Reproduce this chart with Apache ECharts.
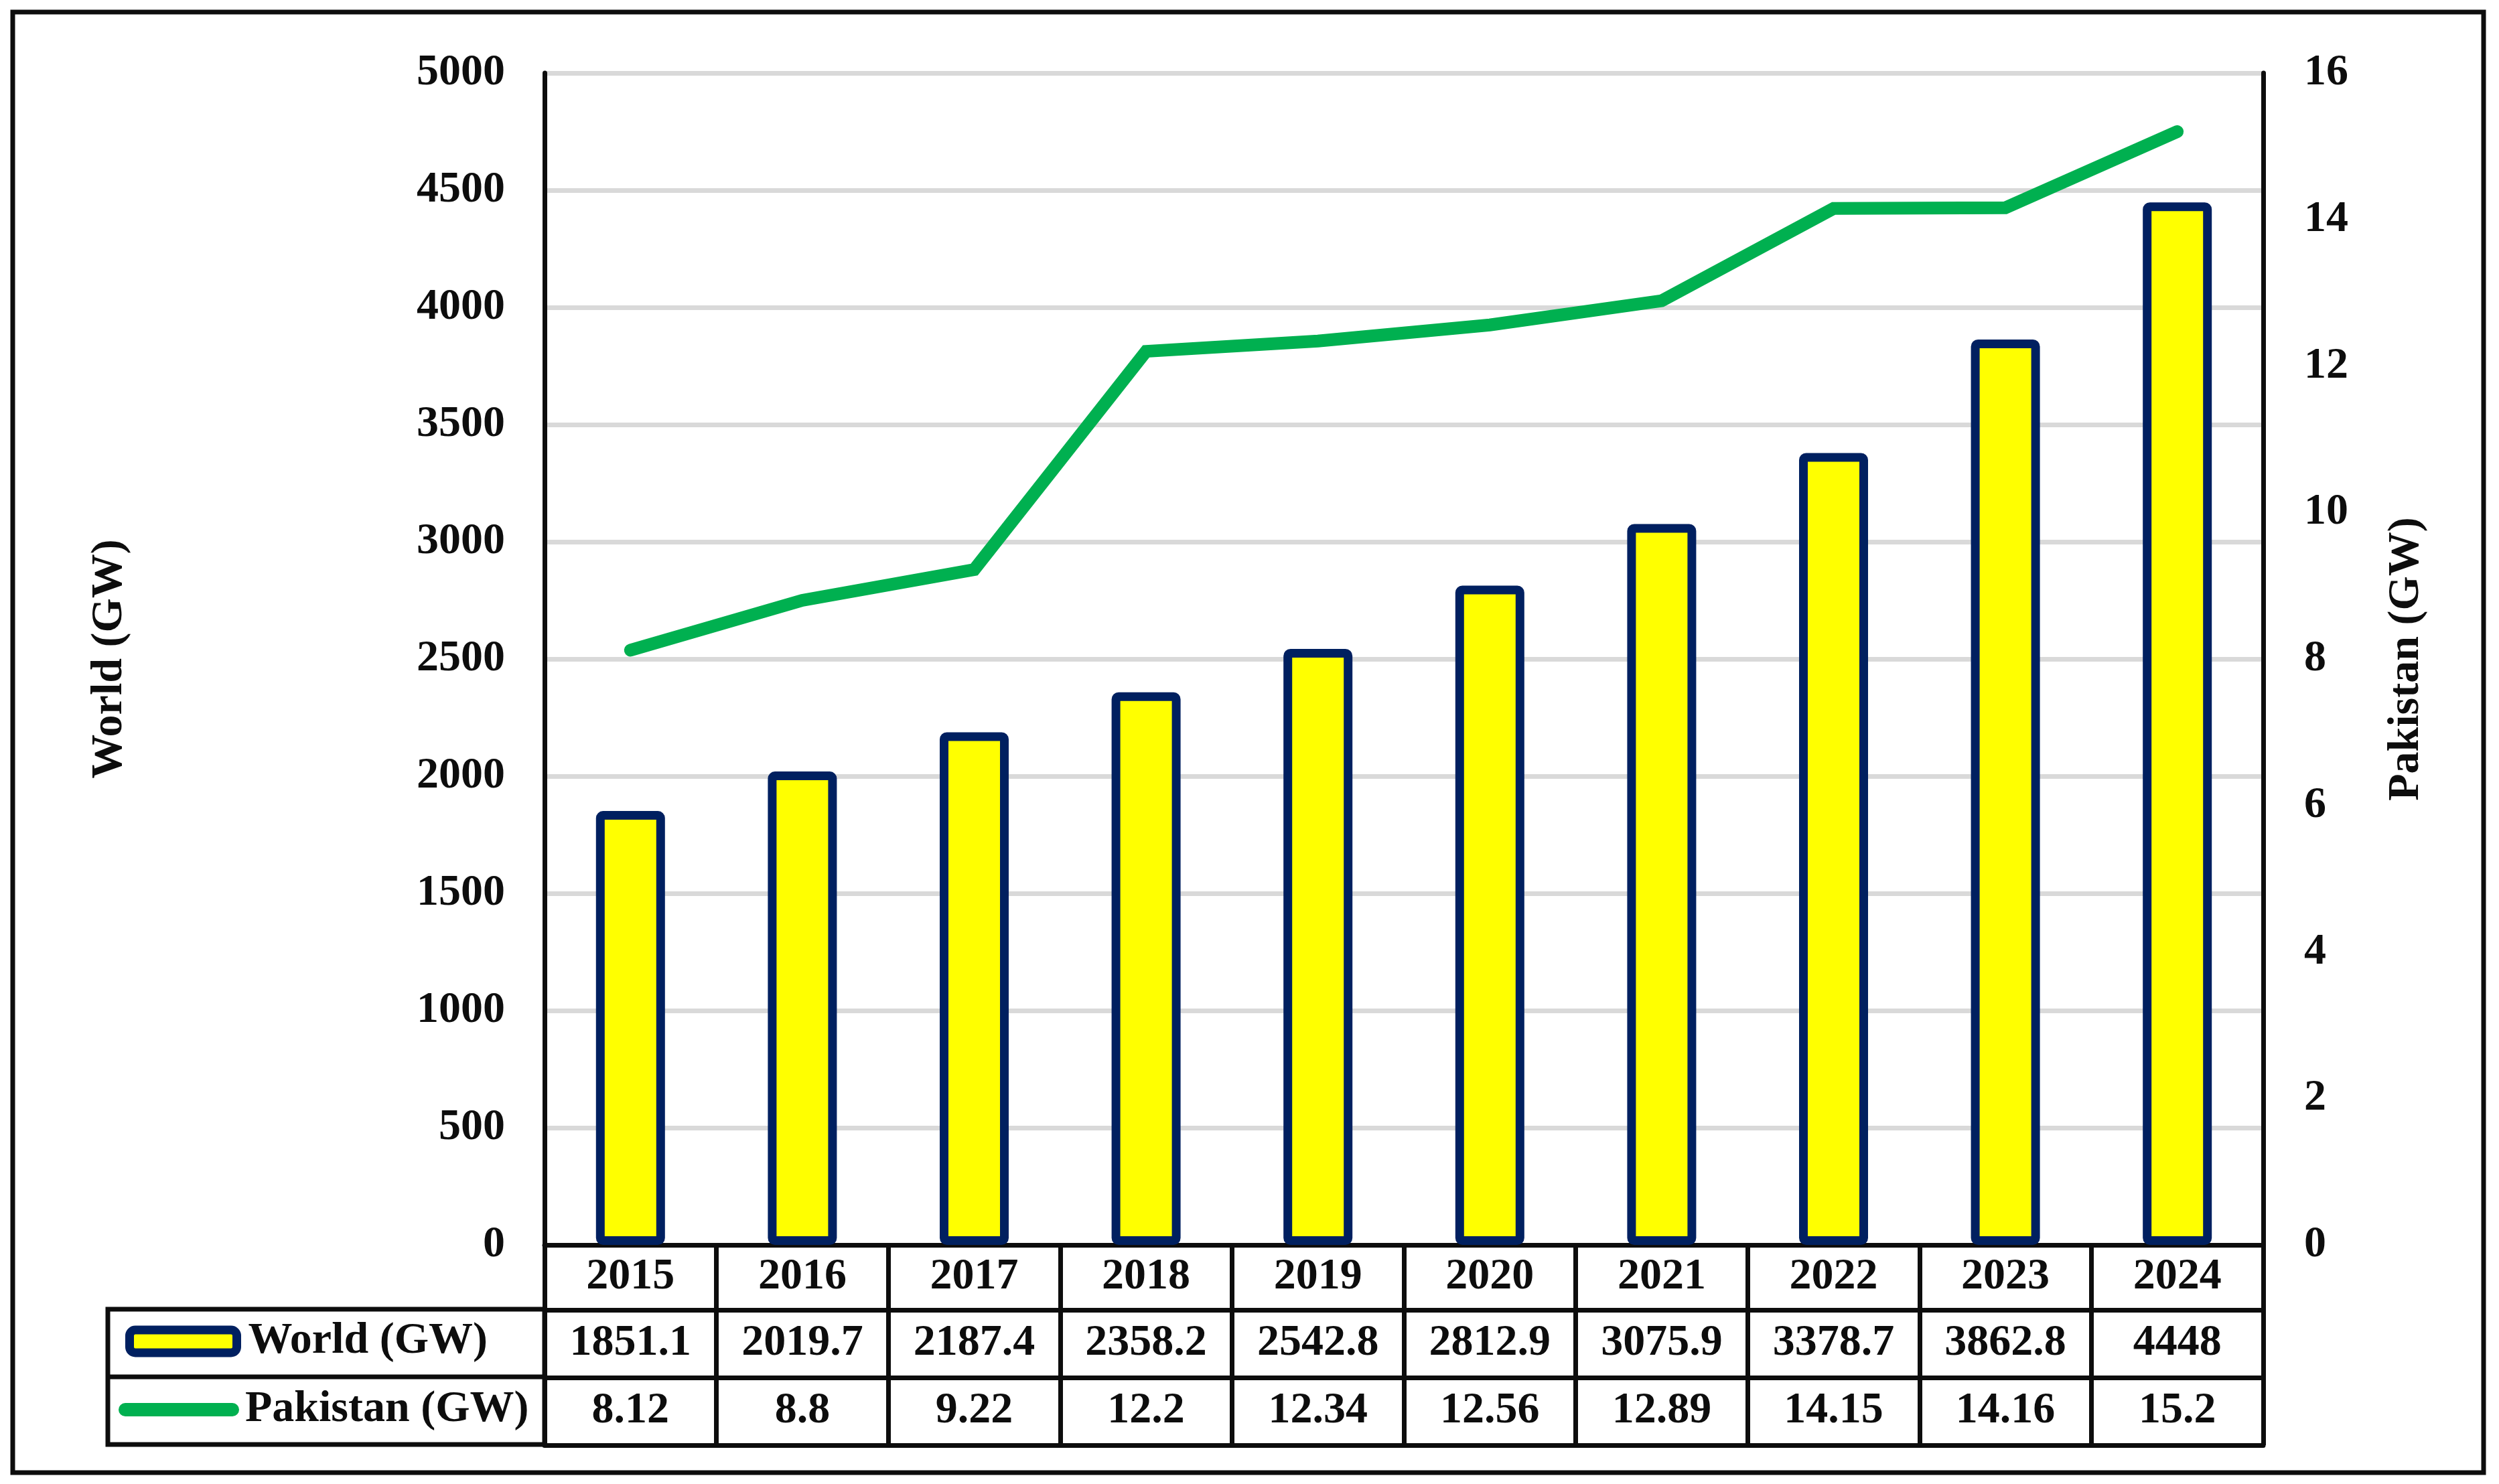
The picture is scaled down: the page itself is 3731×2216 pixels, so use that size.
<!DOCTYPE html>
<html>
<head>
<meta charset="utf-8">
<script src="https://cdn.jsdelivr.net/npm/echarts@6/dist/echarts.min.js"></script>
<style>
  html, body { margin: 0; padding: 0; background: #ffffff; }
  #chart { width: 3731px; height: 2216px; }
</style>
</head>
<body>
<div id="chart"></div>
<script>
// ---- Data ----
const years = ['2015', '2016', '2017', '2018', '2019', '2020', '2021', '2022', '2023', '2024'];
const worldGW = [1851.1, 2019.7, 2187.4, 2358.2, 2542.8, 2812.9, 3075.9, 3378.7, 3862.8, 4448];
const pakistanGW = [8.12, 8.8, 9.22, 12.2, 12.34, 12.56, 12.89, 14.15, 14.16, 15.2];
const worldName = 'World (GW)';
const pakistanName = 'Pakistan (GW)';
const leftTicks = { min: 0, max: 5000, interval: 500 };
const rightTicks = { min: 0, max: 16, interval: 2 };

// ---- Styling ----
const FONT = "'Liberation Serif', 'Times New Roman', serif";
const TXT = '#0d0d0d';
const FS = 66;
const LINE_W = 7;
const navy = '#002060';
const yellow = '#FFFF00';
const green = '#00B050';

const chart = echarts.init(document.getElementById('chart'), null, { renderer: 'canvas' });

const labelStyle = { fontFamily: FONT, fontWeight: 'bold', fontSize: FS, color: TXT };

function tableAxis(offset, tickLen, margin, formatter, showLabel) {
  return {
    type: 'category',
    data: years,
    position: 'bottom',
    offset: offset,
    boundaryGap: true,
    axisLine: { show: true, onZero: false, lineStyle: { color: TXT, width: LINE_W } },
    axisTick: { show: tickLen > 0, interval: 0, length: tickLen, inside: false,
                lineStyle: { color: TXT, width: LINE_W } },
    axisLabel: Object.assign({ show: showLabel, interval: 0, margin: margin, formatter: formatter }, labelStyle),
    splitLine: { show: false }
  };
}

const option = {
  backgroundColor: '#ffffff',
  animation: false,
  grid: { left: 813, right: 352, top: 109, bottom: 357, containLabel: false },
  legend: [
    {
      data: [{ name: worldName, icon: 'roundRect' }],
      left: 187, top: 1970, padding: 0,
      itemWidth: 160, itemHeight: 34,
      itemStyle: { color: yellow, borderColor: navy, borderWidth: 13 },
      textStyle: Object.assign({ padding: [0, 0, 0, 12] }, labelStyle),
      selectedMode: false
    },
    {
      data: [{ name: pakistanName,
               icon: 'path://M10,0 L170,0 A10,10 0 0 1 170,20 L10,20 A10,10 0 0 1 10,0 Z' }],
      left: 177, top: 2072, padding: 0,
      itemWidth: 180, itemHeight: 20,
      itemStyle: { color: green, borderWidth: 0 },
      lineStyle: { width: 0 },
      textStyle: Object.assign({ padding: [0, 0, 0, 4] }, labelStyle),
      selectedMode: false
    }
  ],
  xAxis: [
    tableAxis(0, 299, 15, function (v) { return v; }, true),
    tableAxis(97, 0, 17, function (v, i) { return String(worldGW[i]); }, true),
    tableAxis(198, 0, 17, function (v, i) { return String(pakistanGW[i]); }, true),
    tableAxis(299, 0, 10, function () { return ''; }, false)
  ],
  yAxis: [
    {
      type: 'value',
      position: 'left',
      min: leftTicks.min, max: leftTicks.max, interval: leftTicks.interval,
      name: worldName,
      nameLocation: 'middle',
      nameRotate: 90,
      nameGap: 616,
      nameTextStyle: labelStyle,
      axisLine: { show: true, lineStyle: { color: TXT, width: LINE_W } },
      axisTick: { show: false },
      axisLabel: Object.assign({ margin: 59, formatter: function (v) { return String(v); } }, labelStyle),
      splitLine: { show: true, lineStyle: { color: '#D9D9D9', width: 7 } }
    },
    {
      type: 'value',
      position: 'right',
      min: rightTicks.min, max: rightTicks.max, interval: rightTicks.interval,
      name: pakistanName,
      nameLocation: 'middle',
      nameRotate: 90,
      nameGap: 181,
      nameTextStyle: labelStyle,
      axisLine: { show: true, lineStyle: { color: TXT, width: LINE_W } },
      axisTick: { show: false },
      axisLabel: Object.assign({ margin: 61, formatter: function (v) { return String(v); } }, labelStyle),
      splitLine: { show: false }
    }
  ],
  series: [
    {
      name: worldName,
      type: 'bar',
      xAxisIndex: 0,
      yAxisIndex: 0,
      data: worldGW,
      barWidth: 103,
      itemStyle: { color: yellow, borderColor: navy, borderWidth: 13, borderRadius: 4 },
      z: 2
    },
    {
      name: pakistanName,
      type: 'line',
      xAxisIndex: 0,
      yAxisIndex: 1,
      data: pakistanGW,
      symbol: 'none',
      showSymbol: false,
      lineStyle: { color: green, width: 19, cap: 'round', join: 'miter' },
      itemStyle: { color: green },
      z: 3
    }
  ],
  graphic: [
    {
      type: 'rect',
      shape: { x: 19, y: 18, width: 3689, height: 2181 },
      style: { fill: 'none', stroke: TXT, lineWidth: LINE_W },
      silent: true, z: 0
    },
    {
      type: 'rect',
      shape: { x: 161, y: 1955, width: 652, height: 202 },
      style: { fill: 'none', stroke: TXT, lineWidth: LINE_W },
      silent: true, z: 10
    },
    {
      type: 'line',
      shape: { x1: 161, y1: 2056, x2: 813, y2: 2056 },
      style: { stroke: TXT, lineWidth: LINE_W },
      silent: true, z: 10
    }
  ]
};

chart.setOption(option);
</script>
</body>
</html>
